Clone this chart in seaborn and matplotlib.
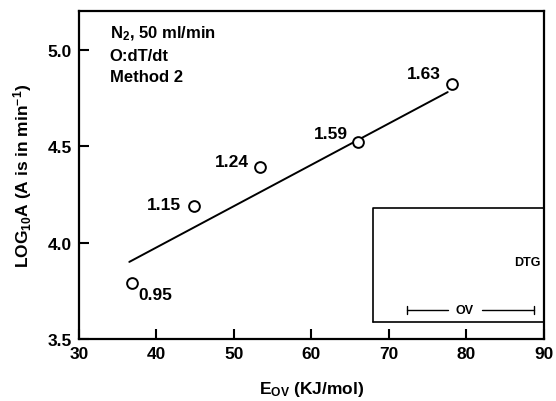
import numpy as np
import matplotlib
matplotlib.use("Agg")
import matplotlib.pyplot as plt
import pandas as pd
import seaborn as sns

# data
e_ov = [36.8, 44.8, 53.4, 66.0, 78.1]
log_a = [3.79, 4.19, 4.39, 4.52, 4.82]
point_labels = ["0.95", "1.15", "1.24", "1.59", "1.63"]
label_offsets = [(5, -8), (-34, 1), (-33, 4), (-32, 6), (-32, 8)]
fit_x = [36.5, 77.6]
fit_y = [3.90, 4.78]
x_ticks = [30, 40, 50, 60, 70, 80, 90]
y_ticks = [3.5, 4.0, 4.5, 5.0]

sns.set_style("ticks")
plt.rcParams['font.family'] = ['Liberation Sans', 'DejaVu Sans']
plt.rcParams['font.weight'] = 'bold'
plt.rcParams['mathtext.fontset'] = 'custom'
plt.rcParams['mathtext.rm'] = 'Liberation Sans:bold'
plt.rcParams['mathtext.it'] = 'Liberation Sans:bold'
plt.rcParams['mathtext.bf'] = 'Liberation Sans:bold'
for k in ['text.color', 'axes.labelcolor', 'xtick.color', 'ytick.color', 'axes.edgecolor']:
    plt.rcParams[k] = 'black'

df = pd.DataFrame({'E': e_ov, 'logA': log_a})
fit = pd.DataFrame({'E': fit_x, 'logA': fit_y})

fig = plt.figure(figsize=(5.56, 4.02), dpi=100)
ax = fig.add_axes([0.142, 0.154, 0.836, 0.816])

sns.lineplot(x='E', y='logA', data=fit, color='black', linewidth=1.4, ax=ax)
sns.scatterplot(x='E', y='logA', data=df, s=60, facecolor='white',
                edgecolor='black', linewidth=1.4, zorder=3, ax=ax)

for x, y, t, off in zip(e_ov, log_a, point_labels, label_offsets):
    ax.annotate(t, (x, y), xytext=off, textcoords='offset points',
                fontsize=12.5, fontweight='bold', va='center')

ax.set_xlim(30, 90)
ax.set_ylim(3.5, 5.2)
ax.set_xticks(x_ticks)
ax.set_yticks(y_ticks)
ax.set_yticklabels(['3.5', '4.0', '4.5', '5.0'])
ax.tick_params(direction='in', length=7, width=1.5, labelsize=12.5, pad=5)
for s in ax.spines.values():
    s.set_linewidth(1.6)
    s.set_visible(True)

ax.set_xlabel('E$_{OV}$ (KJ/mol)', fontsize=12.5, fontweight='bold', labelpad=13)
ax.set_ylabel('LOG$_{10}$A (A is in min$^{-1}$)', fontsize=12.5,
              fontweight='bold', labelpad=10)

ax.text(0.066, 0.935, 'N$_2$, 50 ml/min', transform=ax.transAxes,
        fontsize=12, fontweight='bold', va='center')
ax.text(0.066, 0.866, 'O:dT/dt', transform=ax.transAxes,
        fontsize=12, fontweight='bold', va='center')
ax.text(0.066, 0.802, 'Method 2', transform=ax.transAxes,
        fontsize=12, fontweight='bold', va='center')

# inset box in the lower right
ax.plot([67.9, 67.9, 90.0], [3.59, 4.18, 4.18], color='black', linewidth=1.2)
ax.plot([67.9, 90.0], [3.59, 3.59], color='black', linewidth=1.2)
ax.text(89.6, 3.90, 'DTG', fontsize=9, fontweight='bold', ha='right', va='center')
ax.plot([72.3, 77.6], [3.65, 3.65], color='black', linewidth=1.0)
ax.plot([82.0, 88.8], [3.65, 3.65], color='black', linewidth=1.0)
ax.plot([72.3, 72.3], [3.63, 3.67], color='black', linewidth=1.0)
ax.plot([88.8, 88.8], [3.63, 3.67], color='black', linewidth=1.0)
ax.text(79.8, 3.65, 'OV', fontsize=9, fontweight='bold', ha='center', va='center')

fig.savefig('out.png', dpi=100)
